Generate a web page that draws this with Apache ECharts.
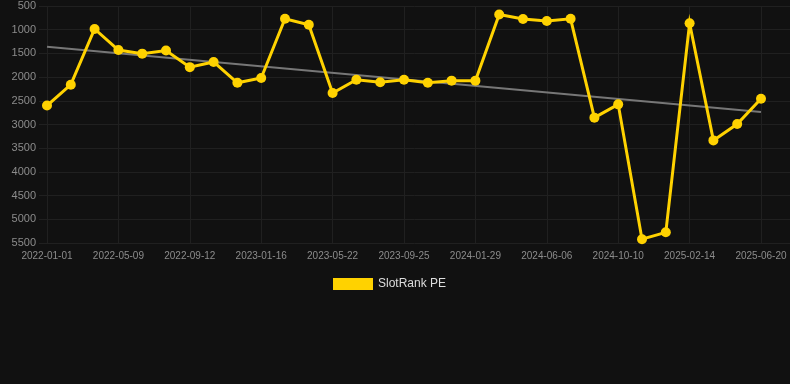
<!DOCTYPE html>
<html lang="en">
<head>
    <meta charset="UTF-8" />
    <title>SlotRank PE</title>
    <script src="https://cdn.jsdelivr.net/npm/echarts@6/dist/echarts.min.js"></script>
    <style>
        html, body { margin: 0; padding: 0; background: #111111; }
    </style>
</head>
<body>
    <div style="width: 790px; height: 384px" id="chart"></div>
    <script>
        // 日期（只有每隔两个的标签会显示）
        const dates = [
            "2022-01-01", "2022-02-12", "2022-03-27", "2022-05-09", "2022-06-20", "2022-08-01",
            "2022-09-12", "2022-10-24", "2022-12-05", "2023-01-16", "2023-02-27", "2023-04-10",
            "2023-05-22", "2023-07-03", "2023-08-14", "2023-09-25", "2023-11-06", "2023-12-18",
            "2024-01-29", "2024-03-12", "2024-04-24", "2024-06-06", "2024-07-18", "2024-08-29",
            "2024-10-10", "2024-11-21", "2025-01-02", "2025-02-14", "2025-03-28", "2025-05-09",
            "2025-06-20"
        ];
        // 排名值
        const rankValues = [
            2600, 2160, 985, 1430, 1505, 1440, 1790, 1680, 2120, 2020, 770,
            895, 2335, 2055, 2110, 2055, 2120, 2075, 2075, 680, 775, 815,
            770, 2855, 2575, 5420, 5275, 865, 3335, 2990, 2455
        ];
        // 趋势线两端
        const trendStart = 1360;
        const trendEnd = 2736;
        const yTicks = [500, 5500, 500]; // min, max, interval

        const myChart = echarts.init(document.getElementById("chart"));

        const gridLineColor = "#202020";
        const labelColor = "#8c8c8c";

        const option = {
            backgroundColor: "#111111",
            animation: false,
            grid: [
                { left: 47, right: 29, top: 6, bottom: 141 }, // 数据区
                { left: 39, right: 0, top: 6, bottom: 141 }   // 只画横向网格线
            ],
            legend: {
                bottom: 89,
                left: 328,
                itemWidth: 40,
                itemHeight: 12,
                textStyle: { color: "#dddddd", fontSize: 12, fontFamily: "Liberation Sans" },
                data: [{ name: "SlotRank PE", icon: "rect" }]
            },
            xAxis: [
                {
                    type: "category",
                    gridIndex: 0,
                    data: dates,
                    boundaryGap: false,
                    axisLine: { show: false },
                    axisTick: { show: false },
                    axisLabel: {
                        interval: 2,
                        color: labelColor,
                        fontSize: 10,
                        fontFamily: "Liberation Sans",
                        margin: 8
                    },
                    splitLine: { show: true, interval: 2, lineStyle: { color: gridLineColor, width: 1 } }
                },
                {
                    type: "value",
                    gridIndex: 1,
                    min: 0,
                    max: 1,
                    show: false
                }
            ],
            yAxis: [
                {
                    type: "value",
                    gridIndex: 0,
                    inverse: true,
                    min: yTicks[0],
                    max: yTicks[1],
                    interval: yTicks[2],
                    axisLine: { show: false },
                    axisTick: { show: false },
                    axisLabel: {
                        color: labelColor,
                        fontSize: 11,
                        fontFamily: "Liberation Sans",
                        margin: 11,
                        formatter: (v) => String(v)
                    },
                    splitLine: { show: false }
                },
                {
                    type: "value",
                    gridIndex: 1,
                    inverse: true,
                    min: yTicks[0],
                    max: yTicks[1],
                    interval: yTicks[2],
                    axisLine: { show: false },
                    axisTick: { show: false },
                    axisLabel: { show: false },
                    splitLine: { lineStyle: { color: gridLineColor, width: 1 } }
                }
            ],
            series: [
                {
                    name: "trend",
                    type: "line",
                    xAxisIndex: 0,
                    yAxisIndex: 0,
                    data: [[dates[0], trendStart], [dates[dates.length - 1], trendEnd]],
                    symbol: "none",
                    lineStyle: { color: "#777777", width: 2 },
                    silent: true,
                    z: 3
                },
                {
                    name: "SlotRank PE",
                    type: "line",
                    xAxisIndex: 0,
                    yAxisIndex: 0,
                    data: rankValues,
                    symbol: "circle",
                    symbolSize: 10,
                    itemStyle: { color: "#ffd200" },
                    lineStyle: { color: "#ffd200", width: 3, join: "miter" },
                    z: 4
                }
            ]
        };

        myChart.setOption(option);
    </script>
</body>
</html>
